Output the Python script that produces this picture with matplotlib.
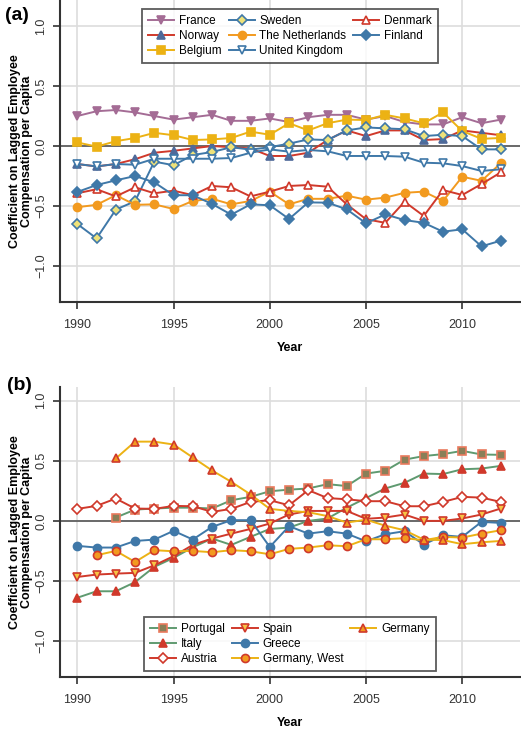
import matplotlib
matplotlib.use("Agg")
import matplotlib.pyplot as plt
from matplotlib.lines import Line2D

plt.rcParams['font.family'] = ['Liberation Sans', 'DejaVu Sans']

# years on the x axis
years = list(range(1990, 2013))

# panel (a)
france = [0.25, 0.29, 0.30, 0.28, 0.25, 0.22, 0.24, 0.26, 0.21, 0.21, 0.23, 0.20,
          0.24, 0.26, 0.26, 0.22, 0.25, 0.20, 0.18, 0.18, 0.24, 0.19, 0.22]
norway = [-0.15, -0.17, -0.15, -0.11, -0.056, -0.04, -0.02, 0.0, -0.01, -0.02, -0.083, -0.083,
          -0.056, 0.05, 0.13, 0.083, 0.13, 0.13, 0.05, 0.058, 0.13, 0.11, 0.09]
belgium = [0.03, -0.005, 0.04, 0.067, 0.11, 0.09, 0.05, 0.055, 0.067, 0.12, 0.094, 0.19,
           0.13, 0.19, 0.22, 0.217, 0.26, 0.23, 0.19, 0.28, 0.125, 0.06, 0.067]
sweden = [-0.65, -0.77, -0.53, -0.46, -0.13, -0.16, -0.075, -0.05, -0.01, -0.03, -0.01, 0.02,
          0.055, 0.05, 0.13, 0.155, 0.147, 0.14, 0.083, 0.094, 0.083, -0.028, -0.028]
netherlands = [-0.51, -0.49, -0.41, -0.49, -0.486, -0.525, -0.458, -0.44, -0.486, -0.458, -0.38, -0.486,
               -0.44, -0.44, -0.414, -0.447, -0.43, -0.39, -0.38, -0.458, -0.256, -0.29, -0.144]
uk = [-0.15, -0.17, -0.15, -0.156, -0.106, -0.106, -0.106, -0.106, -0.1, -0.056, -0.028, -0.047,
      -0.033, -0.044, -0.083, -0.083, -0.083, -0.089, -0.139, -0.144, -0.167, -0.208, -0.194]
denmark = [-0.394, -0.36, -0.42, -0.344, -0.394, -0.372, -0.41, -0.333, -0.344, -0.42, -0.38, -0.333,
           -0.325, -0.339, -0.486, -0.61, -0.64, -0.464, -0.583, -0.367, -0.408, -0.317, -0.22]
finland = [-0.383, -0.325, -0.286, -0.25, -0.303, -0.41, -0.41, -0.483, -0.572, -0.486, -0.494, -0.608,
           -0.47, -0.472, -0.528, -0.644, -0.57, -0.617, -0.64, -0.714, -0.694, -0.836, -0.789]

# panel (b)
portugal = [None, None, 0.028, 0.094, 0.103, 0.11, 0.11, 0.103, 0.172, 0.2, 0.247, 0.26,
            0.27, 0.306, 0.29, 0.394, 0.417, 0.51, 0.54, 0.556, 0.583, 0.553, 0.55]
italy = [-0.64, -0.586, -0.586, -0.51, -0.383, -0.308, -0.22, -0.147, -0.2, -0.133, -0.067, -0.056,
         0.0, 0.02, 0.11, 0.19, 0.27, 0.317, 0.394, 0.39, 0.43, 0.436, 0.458]
austria = [0.1, 0.125, 0.186, 0.103, 0.1, 0.125, 0.122, 0.075, 0.1, 0.158, 0.172, 0.13,
           0.256, 0.19, 0.18, 0.164, 0.164, 0.122, 0.122, 0.158, 0.2, 0.194, 0.158]
spain = [-0.467, -0.447, -0.439, -0.433, -0.37, -0.294, -0.2, -0.147, -0.106, -0.067, -0.022, 0.053,
         0.083, 0.083, 0.083, 0.017, 0.028, 0.053, 0.0, 0.0, 0.02, 0.053, 0.103]
greece = [-0.208, -0.222, -0.222, -0.167, -0.156, -0.083, -0.155, -0.05, 0.006, 0.006, -0.217, -0.044,
          -0.106, -0.086, -0.106, -0.17, -0.111, -0.086, -0.197, -0.12, -0.133, -0.008, -0.017]
germany_west = [None, -0.286, -0.25, -0.342, -0.244, -0.253, -0.25, -0.261, -0.244, -0.253, -0.278, -0.233,
                -0.222, -0.203, -0.211, -0.153, -0.153, -0.144, -0.161, -0.133, -0.139, -0.106, -0.078]
germany = [None, None, 0.52, 0.66, 0.66, 0.636, 0.528, 0.42, 0.325, 0.22, 0.1, 0.083,
           0.072, 0.04, -0.014, 0.01, -0.04, -0.078, -0.156, -0.16, -0.194, -0.178, -0.167]

BLUE = '#3f78a8'
RED = '#d0392b'
YEL = '#ecb214'
ORA = '#f29a1f'
MAU = '#a46c95'
GRN = '#5f9a70'


def nan(v):
    return [float('nan') if x is None else x for x in v]


def style_axes(ax, ytop):
    ax.set_xlim(1989.1, 2013)
    ax.set_ylim(-1.3, ytop)
    ax.set_xticks([1990, 1995, 2000, 2005, 2010])
    ax.set_yticks([-1.0, -0.5, 0.0, 0.5, 1.0])
    ax.set_yticklabels(['\u22121.0', '\u22120.5', '0.0', '0.5', '1.0'], rotation=90, va='center')
    ax.grid(True, color='#dddddd', linewidth=1.2)
    ax.set_axisbelow(True)
    ax.axhline(0, color='#555555', linewidth=1.2, zorder=1.5)
    for s in ['top', 'right']:
        ax.spines[s].set_visible(False)
    for s in ['left', 'bottom']:
        ax.spines[s].set_color('#333333')
        ax.spines[s].set_linewidth(1.5)
    ax.tick_params(direction='out', length=5, width=1.2, color='#333333',
                   labelsize=9, labelcolor='#333333')
    ax.tick_params(axis='x', pad=7)
    ax.tick_params(axis='y', pad=4)
    ax.set_xlabel('Year', fontsize=9, fontweight='bold', labelpad=8)
    ax.set_ylabel('Coefficient on Lagged Employee\nCompensation per Capita',
                  fontsize=9, fontweight='bold', labelpad=2, linespacing=1.0)


def draw(ax, y, label, lc, marker, fc, ec, ms=5.8):
    ax.plot(years, nan(y), color=lc, linewidth=1.4, marker=marker, markersize=ms,
            markerfacecolor=fc, markeredgecolor=ec, markeredgewidth=1.2, label=label)


fig = plt.figure(figsize=(5.21, 7.30), dpi=100)
axA = fig.add_axes([60 / 521, 1 - 302 / 730, 460 / 521, 302 / 730])
axB = fig.add_axes([60 / 521, 1 - 677 / 730, 460 / 521, 290 / 730])

style_axes(axA, 1.217)
style_axes(axB, 1.115)

draw(axA, france, 'France', MAU, 'v', MAU, MAU)
draw(axA, norway, 'Norway', RED, '^', '#4f6a9a', '#4f6a9a')
draw(axA, belgium, 'Belgium', YEL, 's', YEL, YEL, 5.3)
draw(axA, sweden, 'Sweden', BLUE, 'D', '#eee27a', BLUE, 5.0)
draw(axA, netherlands, 'The Netherlands', ORA, 'o', ORA, ORA)
draw(axA, uk, 'United Kingdom', BLUE, 'v', 'white', BLUE)
draw(axA, denmark, 'Denmark', RED, '^', 'white', RED)
draw(axA, finland, 'Finland', BLUE, 'D', BLUE, BLUE, 5.0)

legA = axA.legend(loc='upper center', bbox_to_anchor=(0.5, 0.99), ncol=3, fontsize=8.5,
                  frameon=True, fancybox=False, handlelength=2.2, handletextpad=0.4,
                  columnspacing=0.6, labelspacing=0.25, borderpad=0.5)
legA.get_frame().set_edgecolor('#333333')
legA.get_frame().set_linewidth(1.3)

draw(axB, portugal, 'Portugal', GRN, 's', '#8a7f58', '#ea7a5e', 5.3)
draw(axB, italy, 'Italy', GRN, '^', RED, RED)
draw(axB, austria, 'Austria', RED, 'D', 'white', RED, 5.0)
draw(axB, spain, 'Spain', RED, 'v', '#f7c445', RED)
draw(axB, greece, 'Greece', BLUE, 'o', BLUE, BLUE)
draw(axB, germany_west, 'Germany, West', YEL, 'o', ORA, RED)
draw(axB, germany, 'Germany', YEL, '^', ORA, RED)

h, l = axB.get_legend_handles_labels()
blank = Line2D([], [], linestyle='none', marker='none')
h = h + [blank, blank]
l = l + ['', '']
legB = axB.legend(h, l, loc='lower center', bbox_to_anchor=(0.5, 0.0), ncol=3, fontsize=8.5,
                  frameon=True, fancybox=False, handlelength=2.2, handletextpad=0.4,
                  columnspacing=0.6, labelspacing=0.25, borderpad=0.5)
legB.get_frame().set_edgecolor('#333333')
legB.get_frame().set_linewidth(1.3)

fig.text(17 / 521, 1 - 15 / 730, '(a)', fontsize=14, fontweight='bold', ha='center', va='center')
fig.text(19 / 521, 1 - 385 / 730, '(b)', fontsize=14, fontweight='bold', ha='center', va='center')

fig.savefig('out.png', dpi=100)
